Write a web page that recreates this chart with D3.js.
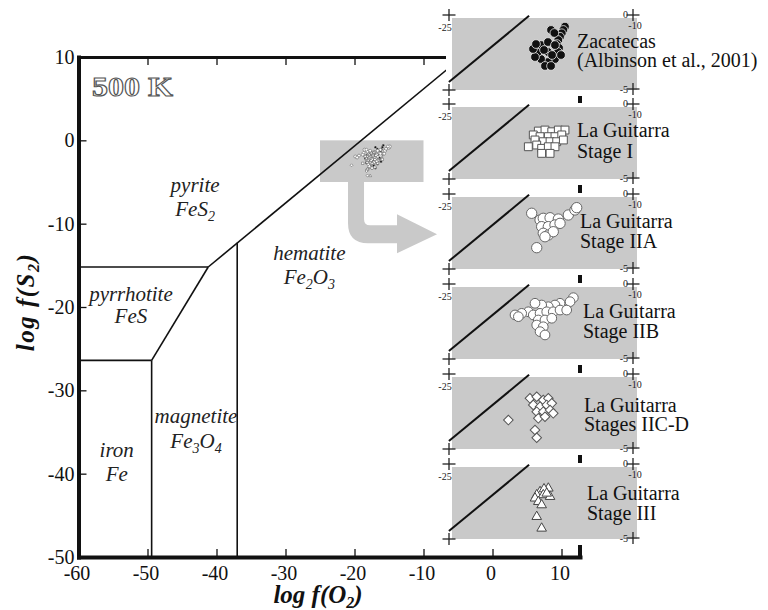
<!DOCTYPE html>
<html><head><meta charset="utf-8">
<script src="https://cdn.jsdelivr.net/npm/d3@7"></script>
<style>
body{margin:0;background:#fff}
svg{display:block}
svg text{font-family:"Liberation Serif","Times New Roman",serif !important}
</style>
</head><body>
<script>
// ---------- DATA ----------
const xTicks = [-60,-50,-40,-30,-20,-10,0,10];
const yTicks = [10,0,-10,-20,-30,-40,-50];
const topTicks = [-50,-40,-30,-20,-10];
// phase boundaries (log fO2, log fS2)
const pyriteHematite     = [[-41.2,-15.2],[-4.4,10]];
const pyrrhotitePyrite   = [[-60,-15.2],[-41.2,-15.2]];
const pyrrhotiteMagnetite= [[-41.2,-15.2],[-49.4,-26.4]];
const ironPyrrhotite     = [[-60,-26.4],[-49.4,-26.4]];
const ironMagnetite      = [[-49.4,-26.4],[-49.4,-50]];
const magnetiteHematite  = [[-37,-12.3],[-37,-50]];
const phaseNames    = ["pyrite","hematite","pyrrhotite","magnetite","iron"];
const phaseFormulas = ["FeS2","Fe2O3","FeS","Fe3O4","Fe"];
const tempLabel = "500 K";
const zoomBoxX = [-25,-10];
const zoomBoxY = [-5,0];
const insetXTicks = [-25,-10];
const insetYTicks = [0,-5];
const insetBoundary = [[-25.25,-4.45],[-18.75,0.15]];
const panelTitles = ["Zacatecas","La Guitarra","La Guitarra","La Guitarra","La Guitarra","La Guitarra"];
const panelSubtitles = ["(Albinson et al., 2001)","Stage I","Stage IIA","Stage IIB","Stages IIC-D","Stage III"];

const zacatecas = [[-15.84,-0.60],[-15.97,-0.83],[-16.10,-1.06],[-16.24,-1.30],[-16.38,-1.53],[-16.49,-1.81],[-16.32,-2.08],[-16.97,-0.83],[-16.70,-1.04],[-16.40,-2.36],[-16.65,-2.85],[-17.22,-3.06],[-17.78,-2.85],[-18.03,-2.36],[-17.78,-1.88],[-17.22,-1.67],[-16.65,-1.88],[-17.22,-2.36],[-17.54,-2.22],[-16.89,-2.57],[-17.46,-3.33],[-16.97,-3.33],[-18.27,-2.71],[-18.43,-2.15],[-18.19,-1.81],[-16.16,-2.57]];
const stageI = [[-18.00,-1.67],[-17.46,-1.60],[-16.91,-1.72],[-16.38,-1.60],[-15.84,-1.60],[-18.41,-1.94],[-17.86,-2.06],[-17.19,-2.06],[-16.65,-2.06],[-16.10,-1.94],[-18.27,-2.29],[-17.60,-2.41],[-17.05,-2.41],[-16.51,-2.41],[-15.97,-2.29],[-18.81,-2.76],[-18.13,-2.64],[-17.73,-2.87],[-17.19,-2.76],[-16.65,-2.76],[-17.73,-3.22],[-17.05,-3.22]];
const stageIIA = [[-18.54,-1.13],[-17.86,-1.60],[-17.60,-1.48],[-17.05,-1.44],[-16.38,-1.53],[-15.57,-1.25],[-15.03,-0.90],[-14.89,-0.74],[-17.73,-2.06],[-17.19,-2.06],[-16.65,-1.94],[-16.24,-1.83],[-17.60,-2.52],[-17.19,-2.64],[-16.79,-2.41],[-17.46,-2.76],[-18.13,-3.52]];
const stageIIB = [[-15.16,-0.74],[-15.43,-1.02],[-16.24,-1.13],[-16.65,-1.25],[-17.19,-1.37],[-17.73,-1.25],[-18.27,-1.13],[-18.81,-1.72],[-19.35,-1.83],[-19.89,-1.94],[-19.62,-2.06],[-18.41,-1.94],[-17.86,-1.83],[-17.32,-1.72],[-16.79,-1.72],[-16.24,-1.60],[-15.70,-1.60],[-18.00,-2.29],[-17.46,-2.29],[-16.91,-2.17],[-18.13,-2.64],[-17.60,-2.76],[-17.86,-3.10],[-17.46,-3.33]];
const stageIICD = [[-18.68,-1.48],[-18.13,-1.37],[-17.60,-1.60],[-17.19,-1.48],[-18.41,-1.94],[-17.86,-2.06],[-17.32,-1.94],[-16.91,-1.83],[-18.13,-2.41],[-17.60,-2.41],[-17.05,-2.29],[-16.79,-2.52],[-18.00,-2.87],[-17.46,-2.76],[-20.43,-2.99],[-18.27,-3.68],[-18.13,-4.22]];
const stageIII = [[-17.86,-1.72],[-17.19,-1.48],[-17.54,-1.53],[-18.13,-1.94],[-17.60,-1.94],[-17.05,-2.06],[-18.27,-2.17],[-17.32,-1.83],[-18.00,-2.41],[-17.73,-2.64],[-18.13,-3.45],[-17.73,-4.26]];
const panelData = [zacatecas, stageI, stageIIA, stageIIB, stageIICD, stageIII];

// ---------- LAYOUT / STYLE ----------
const W = 768, H = 610;
const gray = "#c9c9c9";
const panelTops = [18,107,197,287,377,467];
const panelLabelX = [577,577,580,583,584,587];
const panelLine1 = [30,30,31,31,35,33];
const panelLine2 = [49,51,51,51,54,53];
const markerStyles = [
  {type:d3.symbolCircle, size:60, fill:"#111", stroke:"#e8e8e8", rot:0},
  {type:d3.symbolSquare, size:62, fill:"#fff", stroke:"#555", rot:0},
  {type:d3.symbolCircle, size:84, fill:"#fff", stroke:"#666", rot:0},
  {type:d3.symbolCircle, size:74, fill:"#fff", stroke:"#666", rot:0},
  {type:d3.symbolSquare, size:46, fill:"#fff", stroke:"#555", rot:45},
  {type:d3.symbolTriangle, size:40, fill:"#fff", stroke:"#444", rot:0}
];
// label anchors in data units: [x, y of name, y of formula]
const phaseLabelAnchors = [[-43.1,-6.2,-9.1],[-26.55,-14.3,-17.2],[-52.4,-19.25,-21.95],[-42.97,-33.95,-36.9],[-54.46,-37.95,-40.9]];
// arrow (data units)
const arrowShape = {x0:-20.94, x1:-18.62, yTop:-5, yBendIn:-9.47, yBar0:-10.19, yBar1:-12.35, xHead:-13.84, yHead0:-8.87, yHead1:-13.55, xTip:-8.04, yTip:-11.27, yBendOut:-9.95, xBendOut:-18.04, xBendIn:-17.75};

// ---------- SCALES ----------
const x = d3.scaleLinear().domain([-60,12.68]).range([78.5,580]);
const y = d3.scaleLinear().domain([-50,10]).range([557,57]);

const svg = d3.select("body").append("svg").attr("width",W).attr("height",H);

const line = d3.line().x(d=>x(d[0])).y(d=>y(d[1]));

// zoom box
svg.append("rect").attr("x",x(zoomBoxX[0])).attr("y",y(zoomBoxY[1]))
  .attr("width",x(zoomBoxX[1])-x(zoomBoxX[0])).attr("height",y(zoomBoxY[0])-y(zoomBoxY[1]))
  .attr("fill",gray);

// arrow
(function(){
  const a = arrowShape, p = d3.path();
  p.moveTo(x(a.x0),y(a.yTop));
  p.lineTo(x(a.x1),y(a.yTop));
  p.lineTo(x(a.x1),y(a.yBendIn));
  p.quadraticCurveTo(x(a.x1),y(a.yBar0),x(a.xBendIn),y(a.yBar0));
  p.lineTo(x(a.xHead),y(a.yBar0));
  p.lineTo(x(a.xHead),y(a.yHead0));
  p.lineTo(x(a.xTip),y(a.yTip));
  p.lineTo(x(a.xHead),y(a.yHead1));
  p.lineTo(x(a.xHead),y(a.yBar1));
  p.lineTo(x(a.xBendOut),y(a.yBar1));
  p.quadraticCurveTo(x(a.x0),y(a.yBar1),x(a.x0),y(a.yBendOut));
  p.closePath();
  svg.append("path").attr("d",p.toString()).attr("fill",gray);
})();

// phase boundaries
[pyriteHematite,pyrrhotitePyrite,pyrrhotiteMagnetite,ironPyrrhotite,ironMagnetite,magnetiteHematite]
 .forEach(seg=>svg.append("path").attr("d",line(seg)).attr("fill","none").attr("stroke","#111").attr("stroke-width",1.6));

// scatter in zoom box (all data, small)
panelData.forEach((data,i)=>{
  const st = markerStyles[i];
  const sym = d3.symbol().type(st.type).size(st.size*0.09);
  svg.append("g").selectAll("path").data(data).join("path")
    .attr("d",sym)
    .attr("transform",d=>`translate(${x(d[0])},${y(d[1])}) rotate(${st.rot})`)
    .attr("fill",st.fill).attr("stroke",i===0?"#ccc":"#555").attr("stroke-width",0.5);
});

// formula helper (digits as subscripts)
function formula(sel, str, subSize){
  const parts = str.match(/[A-Za-z]+|\d+/g);
  let sub = false;
  parts.forEach(pt=>{
    const isNum = /^\d+$/.test(pt);
    const t = sel.append("tspan").text(pt);
    if(isNum){ t.attr("font-size",subSize).attr("dy",5); sub = true; }
    else if(sub){ t.attr("dy",-5); sub = false; }
  });
}

// phase labels
phaseNames.forEach((n,i)=>{
  const a = phaseLabelAnchors[i];
  svg.append("text").attr("x",x(a[0])).attr("y",y(a[1])).attr("text-anchor","middle")
    .attr("font-style","italic").attr("font-size",21).attr("fill","#222").text(n);
  const t = svg.append("text").attr("x",x(a[0])).attr("y",y(a[2])).attr("text-anchor","middle")
    .attr("font-style","italic").attr("font-size",21).attr("fill","#222");
  formula(t, phaseFormulas[i], 14);
});

// 500 K
svg.append("text").attr("x",92).attr("y",96).attr("font-size",28).attr("font-weight","bold")
  .attr("textLength",81).attr("lengthAdjust","spacingAndGlyphs")
  .attr("fill","#fff").attr("stroke","#555").attr("stroke-width",1.1).text(tempLabel);

// axes
const fmt = d=>String(d);
const gL = svg.append("g").attr("transform",`translate(${x(-60)},0)`)
  .call(d3.axisLeft(y).tickValues(yTicks).tickSize(-8).tickSizeOuter(0).tickPadding(4).tickFormat(fmt));
const gB = svg.append("g").attr("transform",`translate(0,${y(-50)})`)
  .call(d3.axisBottom(x).tickValues(xTicks).tickSize(-8).tickSizeOuter(0).tickPadding(9).tickFormat(fmt));
const gT = svg.append("g").attr("transform",`translate(0,${y(10)})`)
  .call(d3.axisTop(x).tickValues(topTicks).tickSize(-8).tickSizeOuter(0).tickFormat(""));
[gL,gB,gT].forEach(g=>{
  g.selectAll("text").attr("font-size",20).attr("fill","#111");
  g.selectAll(".tick line").attr("stroke","#111").attr("stroke-width",1.3);
  g.select(".domain").attr("stroke","#111").attr("stroke-linecap","square");
});
gL.select(".domain").attr("stroke-width",4);
gB.select(".domain").attr("stroke-width",4);
gT.select(".domain").attr("stroke-width",3);
gB.selectAll(".tick text").attr("dx",-2);
svg.append("line").attr("x1",x(12.68)).attr("x2",x(12.68)).attr("y1",y(10)).attr("y2",y(-50))
  .attr("stroke","#111").attr("stroke-width",4).attr("stroke-linecap","square");

// axis titles
const xt = svg.append("text").attr("x",318).attr("y",603).attr("text-anchor","middle")
  .attr("font-size",25).attr("font-weight","bold").attr("font-style","italic").attr("fill","#111");
xt.append("tspan").text("log f(O");
xt.append("tspan").text("2").attr("font-size",16).attr("dy",5);
xt.append("tspan").text(")").attr("dy",-5);
const yt = svg.append("text").attr("transform","translate(34,302) rotate(-90)").attr("text-anchor","middle")
  .attr("font-size",25).attr("font-weight","bold").attr("font-style","italic").attr("fill","#111")
  .attr("letter-spacing",1.5);
yt.append("tspan").text("log f(S");
yt.append("tspan").text("2").attr("font-size",16).attr("dy",5);
yt.append("tspan").text(")").attr("dy",-5);

// ---------- INSET PANELS ----------
const xs = d3.scaleLinear().domain(insetXTicks).range([452,637]);
panelData.forEach((data,i)=>{
  const top = panelTops[i];
  const ys = d3.scaleLinear().domain(insetYTicks).range([top, top+72]);
  const g = svg.append("g");
  g.append("rect").attr("x",446).attr("y",top-4).attr("width",200).attr("height",82).attr("fill","#fff");
  g.append("rect").attr("x",xs(-25)).attr("y",ys(0)).attr("width",xs(-10)-xs(-25)).attr("height",ys(-5)-ys(0)).attr("fill",gray);
  g.append("path").attr("d",d3.line().x(d=>xs(d[0])).y(d=>ys(d[1]))(insetBoundary))
    .attr("stroke","#111").attr("stroke-width",2).attr("fill","none");
  const st = markerStyles[i];
  const sym = d3.symbol().type(st.type).size(st.size);
  g.append("g").selectAll("path").data(data).join("path")
    .attr("d",sym)
    .attr("transform",d=>`translate(${xs(d[0])},${ys(d[1])}) rotate(${st.rot})`)
    .attr("fill",st.fill).attr("stroke",st.stroke).attr("stroke-width",i===0?0.8:1);
  // corner crosses
  const crosses = [[xs(-25)-3, ys(0)-3],[xs(-25)-3, ys(-5)],[xs(-10)-4, ys(0)-3],[xs(-10)-4, ys(-5)-1]];
  crosses.forEach(c=>{
    g.append("line").attr("x1",c[0]-6.5).attr("x2",c[0]+6.5).attr("y1",c[1]).attr("y2",c[1]).attr("stroke","#222").attr("stroke-width",1.3);
    g.append("line").attr("x1",c[0]).attr("x2",c[0]).attr("y1",c[1]-6).attr("y2",c[1]+6).attr("stroke","#222").attr("stroke-width",1.3);
  });
  g.append("text").attr("x",xs(-25)-7).attr("y",ys(0)+12.5).attr("text-anchor","middle").attr("font-size",10).attr("fill","#222").text(String(insetXTicks[0]));
  g.append("text").attr("x",xs(-10)-2).attr("y",ys(0)+10.5).attr("text-anchor","middle").attr("font-size",10).attr("fill","#222").text(String(insetXTicks[1]));
  g.append("text").attr("x",xs(-10)-9).attr("y",ys(0)+0).attr("text-anchor","end").attr("font-size",10).attr("fill","#222").text(String(insetYTicks[0]));
  g.append("text").attr("x",xs(-10)-9).attr("y",ys(-5)+2.5).attr("text-anchor","end").attr("font-size",10).attr("fill","#222").text(String(insetYTicks[1]));
  g.append("text").attr("x",panelLabelX[i]).attr("y",top+panelLine1[i]).attr("font-size",20).attr("fill","#111").text(panelTitles[i]);
  g.append("text").attr("x",panelLabelX[i]).attr("y",top+panelLine2[i]).attr("font-size",20).attr("fill","#111").text(panelSubtitles[i]);
});
</script>
</body></html>
